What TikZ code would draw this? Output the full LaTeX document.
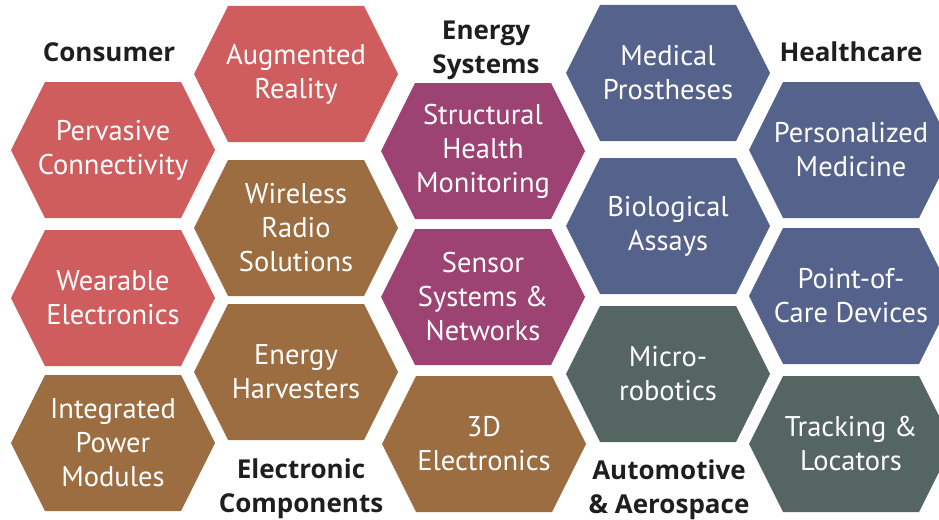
\documentclass[tikz,border=0pt]{standalone}
\usepackage{fontspec}
\setmainfont{PT Sans}
\newfontfamily\sectorfont{Open Sans}
\definecolor{consumerred}{HTML}{CF5D5D}
\definecolor{componentbrown}{HTML}{9B6D41}
\definecolor{energyplum}{HTML}{9D4373}
\definecolor{healthblue}{HTML}{55628B}
\definecolor{autoslate}{HTML}{556662}
\definecolor{titlegray}{HTML}{1E1E1E}
\tikzset{
  cell/.style = {text=white, align=center, font=\fontsize{28.5}{34}\selectfont},
  sector/.style = {text=titlegray, align=center, font=\sectorfont\fontsize{26}{34}\selectfont\bfseries},
}
% hexagon with its label: name, centre, colour, text
\newcommand{\hexcell}[4]{%
  \fill[#3] (#2) ++(-102,0) -- ++(34,-68) -- ++(136,0) -- ++(34,68) -- ++(-34,68) -- ++(-136,0) -- cycle;
  \node[cell] (#1) at (#2) {#4};
}
\begin{document}
\begin{tikzpicture}[x=1pt, y=-1pt]
\useasboundingbox (0,0) rectangle (939,519);

% first column
\hexcell{pervasive}{113,150}{consumerred}{Pervasive\\Connectivity}
\hexcell{wearable}{113,298}{consumerred}{Wearable\\Electronics}
\hexcell{integrated}{113,443}{componentbrown}{Integrated\\Power\\Modules}

% second column
\hexcell{augmented}{296,74}{consumerred}{Augmented\\Reality}
\hexcell{wireless}{296,228}{componentbrown}{Wireless\\Radio\\Solutions}
\hexcell{harvesters}{296,372}{componentbrown}{Energy\\Harvesters}

% third column
\hexcell{structural}{483,151}{energyplum}{Structural\\Health\\Monitoring}
\hexcell{sensor}{483,297}{energyplum}{Sensor\\Systems \&\\Networks}
\hexcell{threed}{484,444}{componentbrown}{3D\\Electronics}

% fourth column
\hexcell{medical}{668,73}{healthblue}{Medical\\Prostheses}
\hexcell{biological}{668,226}{healthblue}{Biological\\Assays}
\hexcell{micro}{668,374}{autoslate}{Micro-\\robotics}

% fifth column
\hexcell{personalized}{851,150}{healthblue}{Personalized\\Medicine}
\hexcell{pointofcare}{851,296}{healthblue}{Point-of-\\Care Devices}
\hexcell{tracking}{851,444}{autoslate}{Tracking \&\\Locators}

% sector titles
\node[sector] (consumer) at (109,52) {Consumer};
\node[sector] (energy) at (486,50) {Energy\\Systems};
\node[sector] (health) at (851,52) {Healthcare};
\node[sector] (components) at (301,489) {Electronic\\Components};
\node[sector] (automotive) at (669,490) {Automotive\\\& Aerospace};
\end{tikzpicture}
\end{document}
